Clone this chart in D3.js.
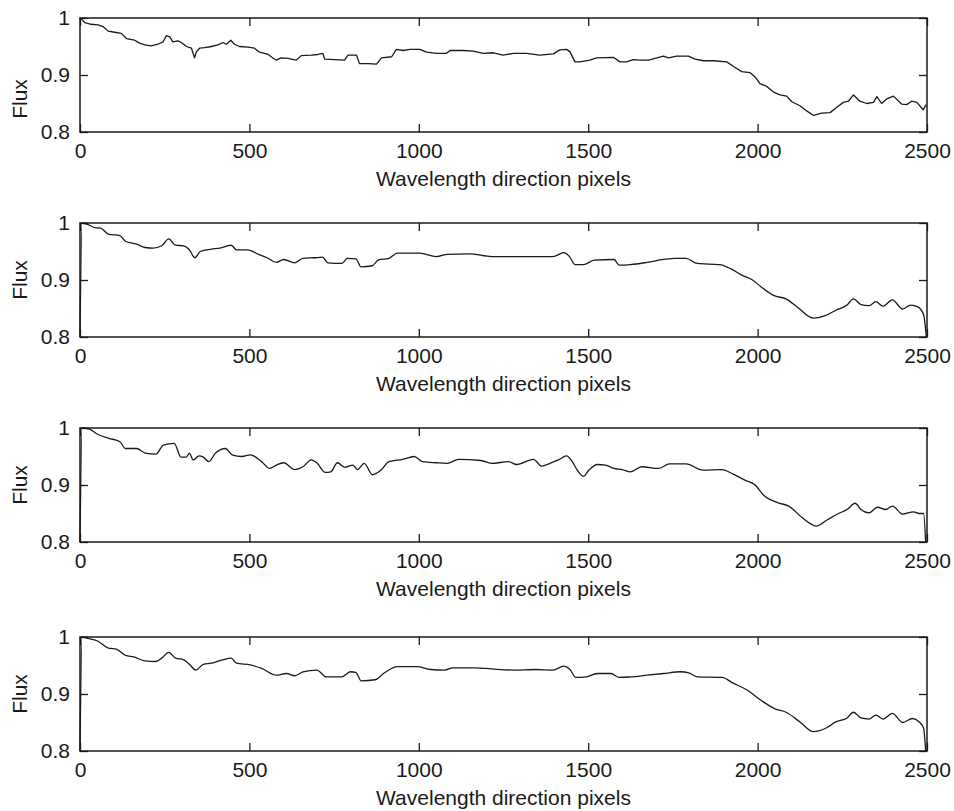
<!DOCTYPE html>
<html>
<head>
<meta charset="utf-8">
<style>
body { margin: 0; background: #fff; }
text { font-family: "Liberation Sans", Arial, sans-serif; font-size: 21px; fill: #1a1a1a; }
.frame { fill: none; stroke: #1a1a1a; stroke-width: 1.5; }
.tick line { stroke: #1a1a1a; stroke-width: 1.3; }
.spec { fill: none; stroke: #1a1a1a; stroke-width: 1.3; stroke-linejoin: round; }
</style>
</head>
<body>
<svg width="954" height="811"></svg>
<script src="https://d3js.org/d3.v7.min.js"></script>
<script>
// tick values / labels
var xTicks = [0, 500, 1000, 1500, 2000, 2500];
var yTicks = [0.8, 0.9, 1.0];
var yTickLabels = ["0.8", "0.9", "1"];
var xLabel = "Wavelength direction pixels";
var yLabel = "Flux";

// panel 1: raw spectrum
var px1 = [0, 4, 14, 33, 53, 68, 83, 102, 122, 137, 161, 176, 191, 210, 230, 245, 255, 265, 274, 289, 299, 314, 329, 338, 343, 353, 368, 388, 407, 422, 432, 445, 456, 471, 496, 515, 530, 555, 579, 594, 614, 638, 653, 683, 702, 717, 722, 752, 781, 791, 816, 825, 840,
  851, 875, 890, 920, 934, 954, 974, 1003, 1023, 1052, 1082, 1092, 1131, 1161, 1190, 1220, 1249, 1279, 1318, 1357, 1397, 1416, 1436, 1446, 1461, 1475, 1505, 1525, 1574, 1594, 1613, 1633,
  1653, 1678, 1697, 1722, 1737, 1761, 1796, 1815, 1840, 1869, 1909, 1929, 1953, 1978, 1992, 2007, 2027, 2047, 2066, 2086, 2101, 2125, 2145, 2165, 2189, 2214, 2233, 2253, 2268, 2283, 2302, 2322, 2342, 2352, 2366, 2381, 2401, 2425, 2440, 2455, 2470, 2489, 2497];
var flux1 = [1.0, 0.998, 0.992, 0.989, 0.988, 0.985, 0.977, 0.975, 0.973, 0.964, 0.961, 0.956, 0.953, 0.951, 0.954, 0.958, 0.969, 0.967, 0.958, 0.960, 0.957, 0.950, 0.947, 0.930, 0.940, 0.947, 0.948, 0.950, 0.953, 0.957, 0.954, 0.961, 0.954, 0.950, 0.949, 0.947, 0.940, 0.936, 0.926, 0.930, 0.929, 0.926, 0.934, 0.935, 0.936, 0.938, 0.928, 0.927, 0.926, 0.935, 0.935, 0.920, 0.920,
  0.920, 0.919, 0.930, 0.932, 0.945, 0.943, 0.945, 0.945, 0.940, 0.938, 0.938, 0.943, 0.943, 0.942, 0.938, 0.939, 0.935, 0.938, 0.938, 0.935, 0.937, 0.944, 0.945, 0.941, 0.923, 0.923, 0.926, 0.930, 0.931, 0.923, 0.923, 0.927,
  0.926, 0.926, 0.929, 0.933, 0.930, 0.933, 0.933, 0.928, 0.925, 0.925, 0.923, 0.915, 0.906, 0.904, 0.897, 0.885, 0.880, 0.870, 0.865, 0.863, 0.853, 0.846, 0.837, 0.829, 0.833, 0.834, 0.843, 0.852, 0.854, 0.865, 0.854, 0.850, 0.852, 0.862, 0.850, 0.858, 0.863, 0.849, 0.848, 0.854, 0.852, 0.839, 0.848];

// panel 2
var px2 = [0, 6, 20, 44, 61, 85, 118, 134, 167, 192, 216, 241, 262, 282, 306, 323, 339, 355, 388, 413, 446, 462, 495, 527, 552, 580, 601, 634, 658, 691, 716, 732, 773, 789, 814, 830, 863, 880, 912, 937, 1002, 1052, 1084, 1150, 1215, 1281, 1346, 1396, 1428, 1445, 1461, 1486, 1518, 1576, 1592, 1625, 1674, 1723, 1756, 1789, 1822, 1887, 1920, 1952, 1985, 2010, 2051, 2084, 2116, 2165, 2198, 2231, 2264, 2283, 2305, 2329, 2349, 2370, 2398, 2428, 2452, 2473, 2490, 2498];
var flux2 = [0.80, 1.0, 0.998, 0.992, 0.991, 0.980, 0.978, 0.968, 0.963, 0.957, 0.956, 0.960, 0.972, 0.961, 0.960, 0.953, 0.939, 0.950, 0.954, 0.956, 0.961, 0.953, 0.953, 0.945, 0.939, 0.931, 0.936, 0.930, 0.938, 0.939, 0.940, 0.930, 0.929, 0.938, 0.937, 0.923, 0.925, 0.935, 0.938, 0.947, 0.947, 0.941, 0.945, 0.946, 0.941, 0.941, 0.941, 0.941, 0.948, 0.941, 0.927, 0.927, 0.935, 0.936, 0.926, 0.927, 0.931, 0.936, 0.938, 0.938, 0.929, 0.927, 0.920, 0.909, 0.900, 0.888, 0.872, 0.867, 0.853, 0.833, 0.837, 0.847, 0.856, 0.867, 0.857, 0.855, 0.862, 0.854, 0.865, 0.849, 0.856, 0.853, 0.839, 0.80];

// panel 3
var px3 = [0, 6, 28, 52, 85, 118, 134, 167, 192, 224, 246, 278, 298, 314, 323, 334, 351, 364, 380, 400, 429, 449, 478, 503, 536, 560, 580, 601, 634, 658, 683, 699, 724, 740, 760, 781, 806, 819, 839, 863, 888, 912, 953, 986, 1011, 1052, 1084, 1117, 1183, 1215, 1265, 1289, 1338, 1363, 1387, 1412, 1436, 1453, 1469, 1486, 1502, 1527, 1551, 1576, 1600, 1625, 1658, 1707, 1740, 1789, 1838, 1895, 1928, 1961, 1993, 2018, 2059, 2092, 2133, 2174, 2206, 2239, 2264, 2288, 2305, 2329, 2354, 2378, 2398, 2428, 2460, 2477, 2490, 2496];
var flux3 = [0.80, 1.0, 0.998, 0.989, 0.982, 0.976, 0.964, 0.964, 0.956, 0.954, 0.970, 0.973, 0.949, 0.949, 0.956, 0.944, 0.951, 0.949, 0.941, 0.956, 0.964, 0.953, 0.950, 0.953, 0.941, 0.929, 0.935, 0.939, 0.927, 0.932, 0.944, 0.939, 0.922, 0.923, 0.939, 0.931, 0.935, 0.927, 0.938, 0.918, 0.926, 0.941, 0.945, 0.950, 0.941, 0.939, 0.938, 0.945, 0.943, 0.938, 0.941, 0.936, 0.945, 0.933, 0.938, 0.944, 0.951, 0.941, 0.925, 0.915, 0.926, 0.936, 0.935, 0.929, 0.927, 0.923, 0.932, 0.929, 0.937, 0.937, 0.926, 0.927, 0.919, 0.909, 0.900, 0.882, 0.869, 0.863, 0.842, 0.828, 0.839, 0.850, 0.857, 0.868, 0.857, 0.851, 0.861, 0.857, 0.863, 0.849, 0.853, 0.850, 0.850, 0.80];

// panel 4
var px4 = [0, 6, 20, 52, 82, 110, 134, 159, 192, 224, 241, 262, 282, 306, 323, 342, 364, 388, 421, 446, 462, 503, 536, 580, 609, 634, 658, 699, 727, 773, 798, 814, 830, 871, 896, 937, 994, 1035, 1076, 1101, 1166, 1215, 1281, 1346, 1396, 1428, 1445, 1464, 1494, 1527, 1567, 1592, 1625, 1674, 1723, 1772, 1797, 1822, 1895, 1928, 1969, 2010, 2051, 2084, 2125, 2165, 2198, 2231, 2264, 2283, 2305, 2329, 2349, 2370, 2398, 2428, 2457, 2477, 2490, 2496];
var flux4 = [0.80, 1.0, 0.998, 0.993, 0.981, 0.978, 0.968, 0.965, 0.958, 0.957, 0.963, 0.973, 0.963, 0.960, 0.952, 0.942, 0.952, 0.954, 0.960, 0.963, 0.954, 0.951, 0.945, 0.933, 0.936, 0.932, 0.939, 0.942, 0.930, 0.930, 0.939, 0.938, 0.923, 0.925, 0.936, 0.948, 0.948, 0.943, 0.942, 0.946, 0.946, 0.944, 0.942, 0.943, 0.942, 0.949, 0.944, 0.929, 0.930, 0.936, 0.936, 0.929, 0.930, 0.933, 0.936, 0.939, 0.937, 0.930, 0.929, 0.919, 0.907, 0.889, 0.874, 0.868, 0.851, 0.834, 0.839, 0.851, 0.858, 0.868, 0.858, 0.856, 0.863, 0.856, 0.866, 0.850, 0.857, 0.851, 0.840, 0.80];

var svg = d3.select("svg");
var left = 80, right = 927, h = 114;
var tops = [18, 223, 428, 637];
var fluxY = [99, 280, 485, 694];   // first panel's label sits lower in the original

var panels = [[px1, flux1], [px2, flux2], [px3, flux3], [px4, flux4]];
// raw spectrum drawn straight, the smoothed ones with a soft curve
var curves = [d3.curveLinear, d3.curveMonotoneX, d3.curveMonotoneX, d3.curveMonotoneX];

var x = d3.scaleLinear().domain([0, 2500]).range([left, right]);

panels.forEach(function(p, i) {
  var top = tops[i];
  var y = d3.scaleLinear().domain([0.8, 1.0]).range([top + h, top]);
  var g = svg.append("g");

  var line = d3.line()
    .curve(curves[i])
    .x(function(d) { return x(d[0]); })
    .y(function(d) { return y(d[1]); });

  g.append("path")
    .datum(d3.zip(p[0], p[1]))
    .attr("class", "spec")
    .attr("d", line);

  // inward ticks on all four sides
  g.append("g")
    .attr("transform", "translate(0," + (top + h) + ")")
    .call(d3.axisBottom(x).tickValues(xTicks).tickSize(-8).tickPadding(11).tickFormat(d3.format("d")));
  g.append("g")
    .attr("transform", "translate(0," + top + ")")
    .call(d3.axisTop(x).tickValues(xTicks).tickSize(-8).tickFormat(""));
  g.append("g")
    .attr("transform", "translate(" + left + ",0)")
    .call(d3.axisLeft(y).tickValues(yTicks).tickSize(-8).tickPadding(10)
      .tickFormat(function(d, j) { return yTickLabels[j]; }));
  g.append("g")
    .attr("transform", "translate(" + right + ",0)")
    .call(d3.axisRight(y).tickValues(yTicks).tickSize(-8).tickFormat(""));

  g.selectAll(".domain").remove();
  g.selectAll(".tick text").attr("font-size", null).attr("font-family", null).attr("fill", null);

  g.append("rect")
    .attr("class", "frame")
    .attr("x", left).attr("y", top)
    .attr("width", right - left).attr("height", h);

  g.append("text")
    .attr("x", (left + right) / 2)
    .attr("y", top + h + 54)
    .attr("text-anchor", "middle")
    .text(xLabel);

  g.append("text")
    .attr("transform", "translate(27," + fluxY[i] + ") rotate(-90)")
    .attr("text-anchor", "middle")
    .text(yLabel);
});
</script>
</body>
</html>
